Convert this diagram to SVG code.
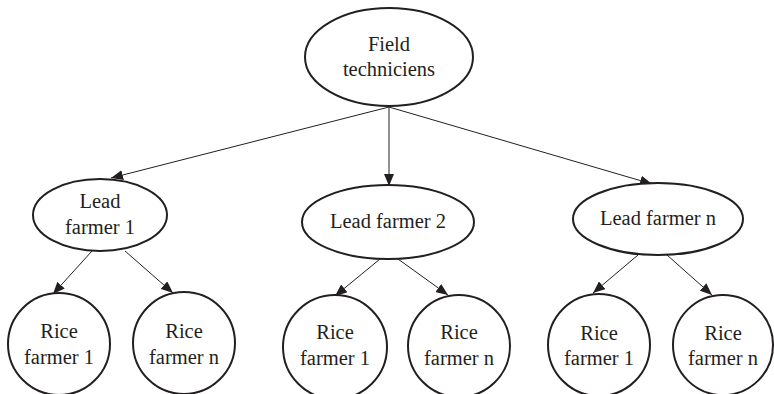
<svg xmlns="http://www.w3.org/2000/svg" width="774" height="394" viewBox="0 0 774 394">
<defs>
<marker id="ah" viewBox="0 0 12 10" refX="12" refY="5" markerWidth="12" markerHeight="10" markerUnits="userSpaceOnUse" orient="auto">
<path d="M0,0 L12,5 L0,10 Z" fill="#231f20"/>
</marker>
<style>
.n{fill:#fff;stroke:#231f20;stroke-width:2}
.t{font-family:"Liberation Serif","Times New Roman",serif;font-size:20.5px;fill:#231f20;text-anchor:middle}
.c line{stroke:#231f20;stroke-width:1;marker-end:url(#ah)}
</style>
</defs>
<rect width="774" height="394" fill="#fff"/>
<g class="c" id="connectors">
<line x1="389" y1="107" x2="111" y2="178"/>
<line x1="389" y1="107" x2="389" y2="186"/>
<line x1="389" y1="107" x2="652" y2="184"/>
<line x1="92" y1="251" x2="53" y2="294"/>
<line x1="125" y1="251" x2="173" y2="293"/>
<line x1="380" y1="259" x2="335" y2="296"/>
<line x1="398" y1="259" x2="448" y2="295"/>
<line x1="638" y1="255" x2="593" y2="293"/>
<line x1="667" y1="255" x2="712" y2="295"/>
</g>
<g id="field"><ellipse class="n" cx="389" cy="57" rx="84" ry="49"/><text class="t" x="389" y="51">Field</text><text class="t" x="389" y="76">techniciens</text></g>
<g id="lead1"><ellipse class="n" cx="100" cy="215" rx="67" ry="36"/><text class="t" x="100" y="208">Lead</text><text class="t" x="100" y="234">farmer 1</text></g>
<g id="lead2"><ellipse class="n" cx="388" cy="222" rx="86" ry="37"/><text class="t" x="388" y="228">Lead farmer 2</text></g>
<g id="leadn"><ellipse class="n" cx="658" cy="219" rx="85" ry="36"/><text class="t" x="658" y="225">Lead farmer n</text></g>
<g id="r11"><circle class="n" cx="59" cy="344" r="51"/><text class="t" x="59" y="338">Rice</text><text class="t" x="59" y="364">farmer 1</text></g>
<g id="r1n"><circle class="n" cx="184" cy="343" r="51"/><text class="t" x="184" y="338">Rice</text><text class="t" x="184" y="364">farmer n</text></g>
<g id="r21"><circle class="n" cx="335" cy="347" r="52"/><text class="t" x="335" y="339">Rice</text><text class="t" x="335" y="365">farmer 1</text></g>
<g id="r2n"><circle class="n" cx="459" cy="346" r="51"/><text class="t" x="459" y="339">Rice</text><text class="t" x="459" y="365">farmer n</text></g>
<g id="rn1"><circle class="n" cx="599" cy="345" r="51"/><text class="t" x="599" y="340">Rice</text><text class="t" x="599" y="365">farmer 1</text></g>
<g id="rnn"><circle class="n" cx="723" cy="345" r="50"/><text class="t" x="723" y="340">Rice</text><text class="t" x="723" y="365">farmer n</text></g>
</svg>
